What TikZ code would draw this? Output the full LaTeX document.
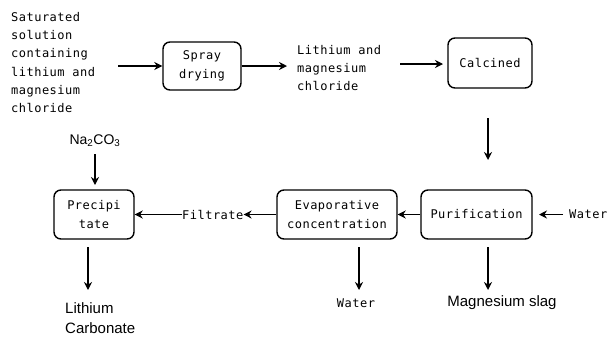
\documentclass[tikz,border=0pt]{standalone}
\usepackage{fontspec}
\setmainfont{Liberation Sans}
\newfontfamily\monof[LetterSpace=4]{DejaVu Sans Mono}
\usetikzlibrary{arrows.meta}
\tikzset{
  box/.style={draw, line width=1.4pt, rounded corners=7pt, align=center, font=\monof\fontsize{12}{19}\selectfont, inner sep=0pt},
  mono/.style={align=left, font=\monof\fontsize{12}{18.3}\selectfont, inner sep=0pt},
  sans/.style={align=left, font=\fontsize{15}{20}\selectfont, inner sep=0pt},
  flow/.style={line width=1.9pt, -{Stealth[length=8pt,width=8pt]}}
}
\begin{document}
\begin{tikzpicture}[x=1pt,y=-1pt]
\useasboundingbox (0,0) rectangle (608,338);
% boxes
\node[box, minimum width=78pt, minimum height=48pt] (spray) at (202,66) {Spray\\drying};
\node[box, minimum width=84pt, minimum height=50pt] (calc) at (490,63) {Calcined};
\node[box, minimum width=111pt, minimum height=49pt] (puri) at (476.5,214.5) {Purification};
\node[box, minimum width=120pt, minimum height=49pt] (evap) at (337,214.5) {Evaporative\\concentration};
\node[box, minimum width=80pt, minimum height=49pt] (prec) at (94,214.5) {Precipi\\tate};
% texts
\node[mono, anchor=north west] (sat) at (11,12) {Saturated\\solution\\containing\\lithium and\\magnesium\\chloride};
\node[mono, anchor=north west] (lmc) at (297,45) {Lithium and\\magnesium\\chloride};
\node[mono, anchor=west] (filt) at (182,214.5) {Filtrate};
\node[mono, anchor=west] (wat1) at (569,214.5) {Water};
\node[mono] (wat2) at (356,303) {Water};
\node[sans, font=\fontsize{14}{16}\selectfont] (na) at (95,141) {Na\textsubscript{2}CO\textsubscript{3}};
\node[sans] (mgs) at (502,303) {Magnesium slag};
\node[sans, anchor=north west] (lic) at (65,302) {Lithium\\Carbonate};
% coordinates
\coordinate (a1s) at (118,66);
\coordinate (a2e) at (287,66);
\coordinate (a3s) at (400,64);
\coordinate (a3e) at (443,64);
\coordinate (cdown1) at (488,118);
\coordinate (cdown2) at (488,160);
\coordinate (wat1w) at (563,214.5);
\coordinate (wat1e) at (539,214.5);
\coordinate (na1) at (95,154);
\coordinate (na2) at (95,185);
\coordinate (pup) at (88,247);
\coordinate (pdown) at (88,290);
\coordinate (eup) at (359,247);
\coordinate (edown) at (359,290);
\coordinate (uup) at (488,247);
\coordinate (udown) at (488,290);
% arrows
\draw[flow] (a1s) -- (spray.west);
\draw[flow] (spray.east) -- (a2e);
\draw[flow] (a3s) -- (a3e);
\draw[flow] (cdown1) -- (cdown2);
\draw[flow] (wat1w) -- (wat1e);
\draw[flow] (puri.west) -- (evap.east);
\draw[flow] (evap.west) -- (filt.east);
\draw[flow] (filt.west) -- (prec.east);
\draw[flow] (na1) -- (na2);
\draw[flow] (pup) -- (pdown);
\draw[flow] (eup) -- (edown);
\draw[flow] (uup) -- (udown);
\end{tikzpicture}
\end{document}
